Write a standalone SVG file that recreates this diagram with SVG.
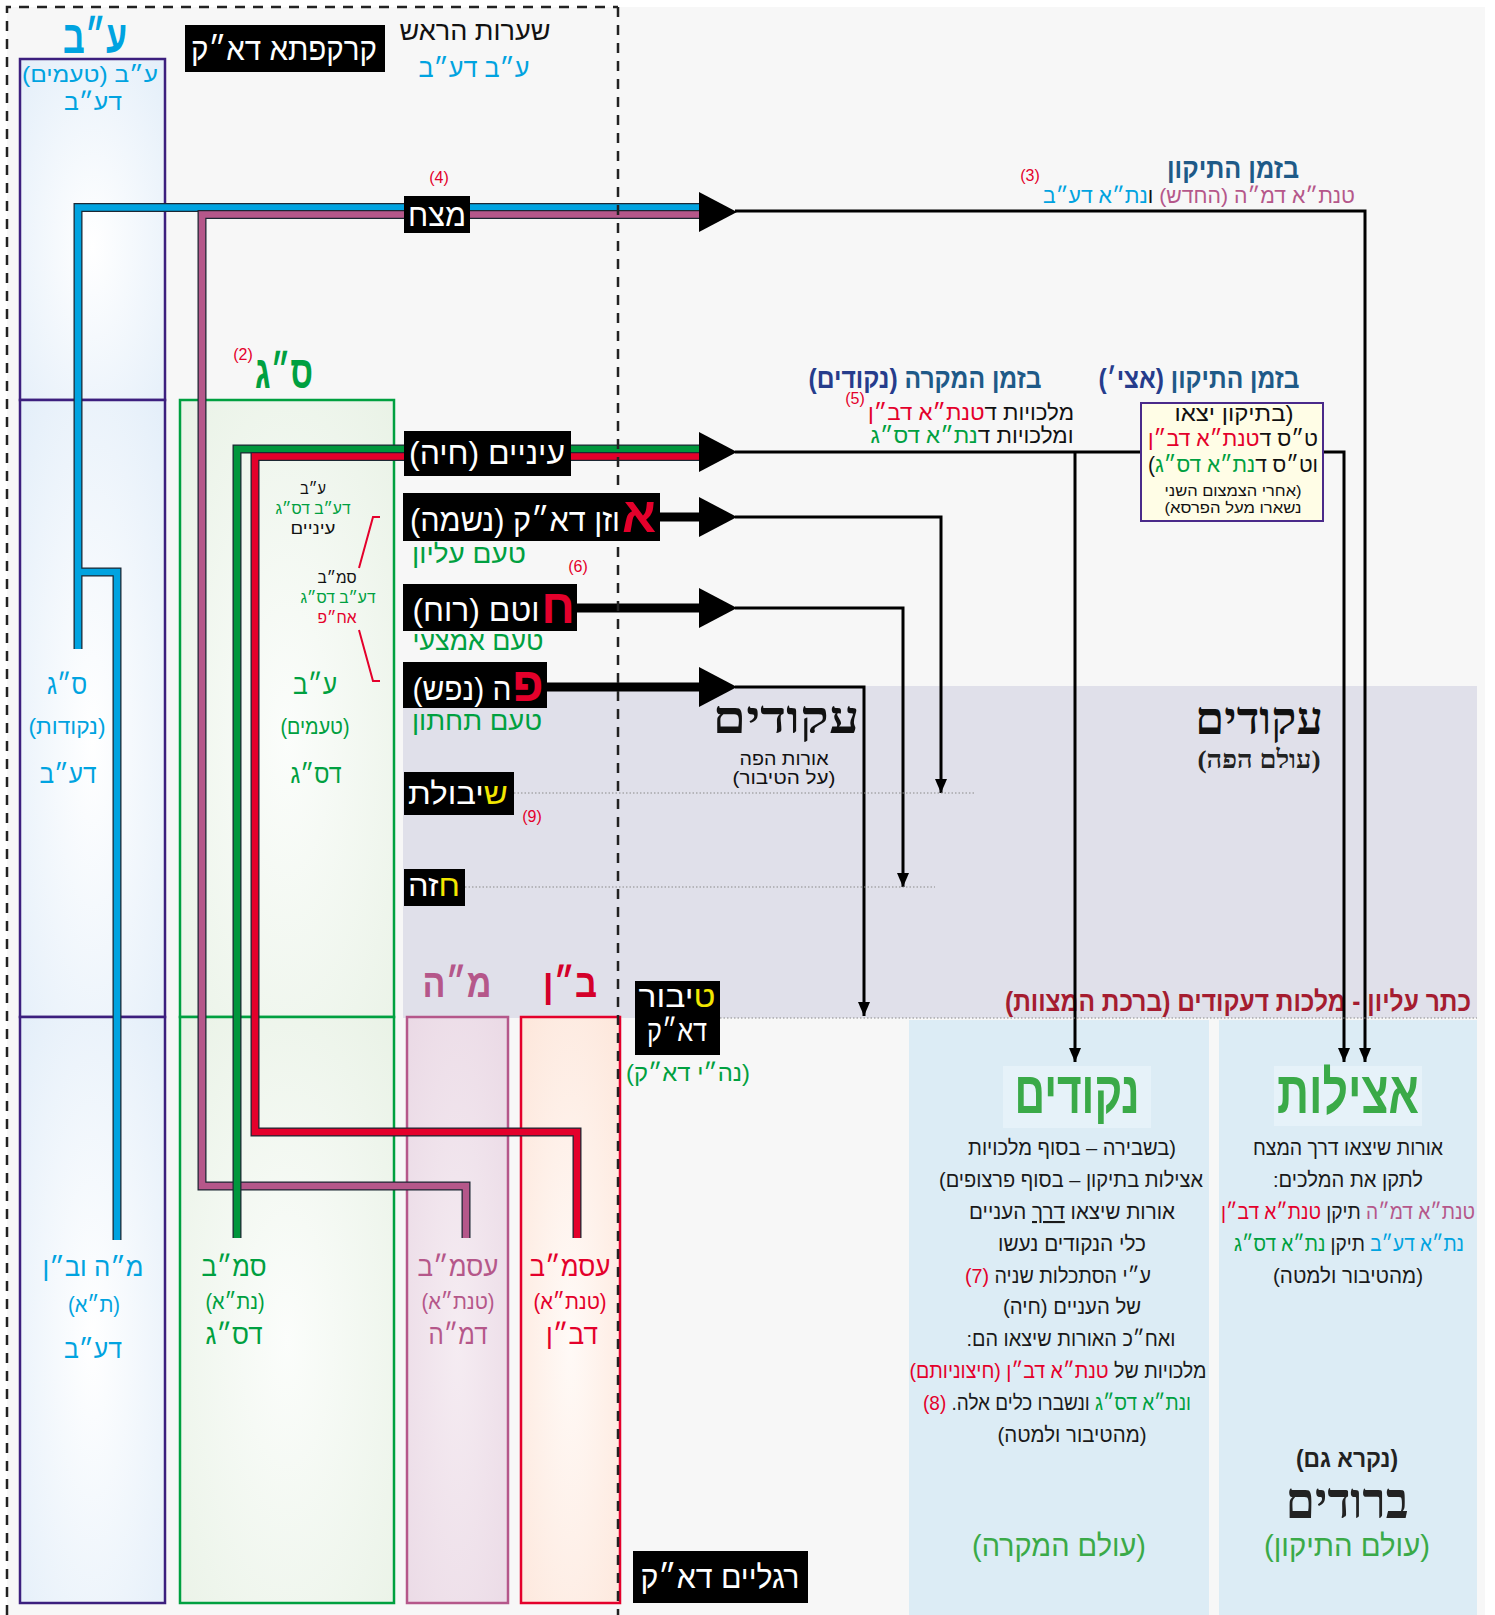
<svg xmlns="http://www.w3.org/2000/svg" width="1495" height="1615" viewBox="0 0 1495 1615">
<defs>
<style>
text{font-family:'Liberation Sans','DejaVu Sans',sans-serif;direction:rtl;text-anchor:middle}
.sf{font-family:'Liberation Serif','DejaVu Serif',serif;font-weight:bold}
.b{font-weight:bold}
.w{fill:#fff}
.cy{fill:#00a3e0}
.gr{fill:#00a040}
.rd{fill:#e4002b}
.mv{fill:#b5578a}
.bk{fill:#111}
.yl{fill:#f2e600}
.nv{fill:#1e5a88}
.nv2{fill:#263c8c}
.pg{fill:#3aaa48}
.num{fill:#e4002b;font-size:16px}
.dash{stroke:#222;stroke-width:2.5;stroke-dasharray:10 8;fill:none}
.dot{stroke:#8a8a8a;stroke-width:1.2;stroke-dasharray:1.5 2;fill:none}
.thin{stroke:#000;stroke-width:3;fill:none}
.thick{stroke:#000;stroke-width:9;fill:none}
.ol{stroke:#1c2733;stroke-width:9;fill:none}
.pt{fill:#1a1a1a;font-size:21px}
.box{fill:#000}
</style>
<marker id="ah" markerUnits="userSpaceOnUse" viewBox="0 0 14 12" refX="14" refY="6" markerWidth="14" markerHeight="12" orient="auto"><path d="M0,0 L14,6 L0,12 z" fill="#000"/></marker>
<radialGradient id="gB" cx="0.5" cy="0.55" r="0.75"><stop offset="0" stop-color="#ffffff"/><stop offset="1" stop-color="#e3eef9"/></radialGradient>
<radialGradient id="gG" cx="0.5" cy="0.55" r="0.75"><stop offset="0" stop-color="#fbfdfb"/><stop offset="1" stop-color="#e9f2e6"/></radialGradient>
<radialGradient id="gM" cx="0.5" cy="0.55" r="0.75"><stop offset="0" stop-color="#f5ecf2"/><stop offset="1" stop-color="#ead9e5"/></radialGradient>
<radialGradient id="gR" cx="0.5" cy="0.55" r="0.75"><stop offset="0" stop-color="#fffaf7"/><stop offset="1" stop-color="#fde6da"/></radialGradient>
</defs>

<rect x="0" y="0" width="1495" height="1615" fill="#fff"/>
<rect x="7" y="7" width="1478" height="1608" fill="#f7f7f7"/>

<g id="band-akudim">
<rect x="403" y="686" width="1074" height="332" fill="#e0e0ea"/>
<text x="786" y="733" class="sf" font-size="46" textLength="147" lengthAdjust="spacingAndGlyphs" fill="#111">עקודים</text>
<text x="784" y="765" font-size="18" textLength="89" lengthAdjust="spacingAndGlyphs" fill="#111">אורות הפה</text>
<text x="784" y="784" font-size="18" textLength="103" lengthAdjust="spacingAndGlyphs" fill="#111">(על הטיבור)</text>
<text x="1259" y="734" class="sf" font-size="46" textLength="128" lengthAdjust="spacingAndGlyphs" fill="#111">עקודים</text>
<text x="1259" y="768" class="sf" font-size="26" textLength="123" lengthAdjust="spacingAndGlyphs" fill="#222">(עולם הפה)</text>
<text x="1238" y="1011" class="b" font-size="28" textLength="466" lengthAdjust="spacingAndGlyphs" fill="#a51c30">כתר עליון - מלכות דעקודים (ברכת המצוות)</text>
</g>

<g id="panel-nekudim">
<rect x="909" y="1020" width="300" height="595" fill="#dcecf5"/>
<rect x="1003" y="1066" width="148" height="62" fill="#e6f2f9"/>
<text x="1077" y="1113" class="b pg" font-size="60" textLength="125" lengthAdjust="spacingAndGlyphs">נקודים</text>
<text x="1072" y="1155" class="pt" textLength="208" lengthAdjust="spacingAndGlyphs">(בשבירה – בסוף מלכויות</text>
<text x="1071" y="1187" class="pt" textLength="264" lengthAdjust="spacingAndGlyphs">אצילות בתיקון – בסוף פרצופים)</text>
<text x="1072" y="1219" class="pt" textLength="206" lengthAdjust="spacingAndGlyphs">אורות שיצאו <tspan text-decoration="underline">דרך</tspan> העניים</text>
<text x="1072" y="1251" class="pt" textLength="148" lengthAdjust="spacingAndGlyphs">כלי הנקודים נעשו</text>
<text x="1058" y="1283" class="pt" textLength="186" lengthAdjust="spacingAndGlyphs">ע״י הסתכלות שניה <tspan class="rd">(7)</tspan></text>
<text x="1072" y="1314" class="pt" textLength="138" lengthAdjust="spacingAndGlyphs">של העניים (חיה)</text>
<text x="1071" y="1346" class="pt" textLength="209" lengthAdjust="spacingAndGlyphs">ואח״כ האורות שיצאו הם:</text>
<text x="1058" y="1378" class="pt" textLength="297" lengthAdjust="spacingAndGlyphs">מלכויות של <tspan class="rd">טנת״א דב״ן (חיצוניותם)</tspan></text>
<text x="1057" y="1410" class="pt" textLength="268" lengthAdjust="spacingAndGlyphs"><tspan class="gr">ונת״א דס״ג</tspan> ונשברו כלים אלה. <tspan class="rd">(8)</tspan></text>
<text x="1072" y="1442" class="pt" textLength="149" lengthAdjust="spacingAndGlyphs">(מהטיבור ולמטה)</text>
<text x="1059" y="1556" class="pg" font-size="30" textLength="174" lengthAdjust="spacingAndGlyphs">(עולם המקרה)</text>
</g>

<g id="panel-atzilut">
<rect x="1219" y="1020" width="258" height="595" fill="#dcecf5"/>
<rect x="1274" y="1066" width="148" height="60" fill="#e6f2f9"/>
<text x="1348" y="1113" class="b pg" font-size="60" textLength="142" lengthAdjust="spacingAndGlyphs">אצילות</text>
<text x="1348" y="1155" class="pt" textLength="190" lengthAdjust="spacingAndGlyphs">אורות שיצאו דרך המצח</text>
<text x="1348" y="1187" class="pt" textLength="150" lengthAdjust="spacingAndGlyphs">לתקן את המלכים:</text>
<text x="1348" y="1219" class="pt" textLength="254" lengthAdjust="spacingAndGlyphs"><tspan class="mv">טנת״א דמ״ה</tspan> תיקן <tspan class="rd">טנת״א דב״ן</tspan></text>
<text x="1349" y="1251" class="pt" textLength="230" lengthAdjust="spacingAndGlyphs"><tspan class="cy">נת״א דע״ב</tspan> תיקן <tspan class="gr">נת״א דס״ג</tspan></text>
<text x="1348" y="1283" class="pt" textLength="150" lengthAdjust="spacingAndGlyphs">(מהטיבור ולמטה)</text>
<text x="1347" y="1467" class="b" font-size="24" textLength="102" lengthAdjust="spacingAndGlyphs" fill="#222">(נקרא גם)</text>
<text x="1347" y="1518" class="sf" font-size="50" textLength="123" lengthAdjust="spacingAndGlyphs" fill="#222">ברודים</text>
<text x="1347" y="1556" class="pg" font-size="30" textLength="166" lengthAdjust="spacingAndGlyphs">(עולם התיקון)</text>
</g>

<g id="col-ab">
<rect x="20" y="59" width="145" height="341" fill="url(#gB)" stroke="#3c1f7e" stroke-width="2.5"/>
<rect x="20" y="400" width="145" height="617" fill="url(#gB)" stroke="#3c1f7e" stroke-width="2.5"/>
<rect x="20" y="1017" width="145" height="586" fill="url(#gB)" stroke="#3c1f7e" stroke-width="2.5"/>
<text x="95" y="53" class="b cy" font-size="46" textLength="64" lengthAdjust="spacingAndGlyphs">ע״ב</text>
<text x="90" y="82" class="cy" font-size="22" textLength="136" lengthAdjust="spacingAndGlyphs">ע״ב (טעמים)</text>
<text x="93" y="110" class="cy" font-size="24" textLength="58" lengthAdjust="spacingAndGlyphs">דע״ב</text>
<text x="67" y="694" class="cy" font-size="28" textLength="40" lengthAdjust="spacingAndGlyphs">ס״ג</text>
<text x="67" y="734" class="cy" font-size="22" textLength="77" lengthAdjust="spacingAndGlyphs">(נקודות)</text>
<text x="68" y="783" class="cy" font-size="26" textLength="57" lengthAdjust="spacingAndGlyphs">דע״ב</text>
<text x="93" y="1276" class="cy" font-size="26" textLength="101" lengthAdjust="spacingAndGlyphs">מ״ה וב״ן</text>
<text x="94" y="1312" class="cy" font-size="22" textLength="52" lengthAdjust="spacingAndGlyphs">(ת״א)</text>
<text x="93" y="1358" class="cy" font-size="26" textLength="58" lengthAdjust="spacingAndGlyphs">דע״ב</text>
</g>

<g id="col-sg">
<rect x="180" y="400" width="214" height="617" fill="url(#gG)" stroke="#00a040" stroke-width="2.5"/>
<rect x="180" y="1017" width="214" height="586" fill="url(#gG)" stroke="#00a040" stroke-width="2.5"/>
<text x="284" y="388" class="b gr" font-size="46" textLength="58" lengthAdjust="spacingAndGlyphs">ס״ג</text>
<text x="243" y="360" class="num">(2)</text>
<text x="313" y="494" class="bk" font-size="16" textLength="26" lengthAdjust="spacingAndGlyphs">ע״ב</text>
<text x="313" y="514" class="gr" font-size="16" textLength="75" lengthAdjust="spacingAndGlyphs">דע״ב דס״ג</text>
<text x="313" y="534" class="bk" font-size="16" textLength="45" lengthAdjust="spacingAndGlyphs">עיניים</text>
<text x="337" y="583" class="bk" font-size="16" textLength="39" lengthAdjust="spacingAndGlyphs">סמ״ב</text>
<text x="338" y="603" class="gr" font-size="16" textLength="75" lengthAdjust="spacingAndGlyphs">דע״ב דס״ג</text>
<text x="337" y="623" class="rd" font-size="16" textLength="39" lengthAdjust="spacingAndGlyphs">אח״פ</text>
<path d="M380,517 H373 L359,568 M359,630 L373,681 H380" fill="none" stroke="#e4002b" stroke-width="2"/>
<text x="315" y="694" class="gr" font-size="28" textLength="44" lengthAdjust="spacingAndGlyphs">ע״ב</text>
<text x="315" y="734" class="gr" font-size="22" textLength="69" lengthAdjust="spacingAndGlyphs">(טעמים)</text>
<text x="316" y="783" class="gr" font-size="26" textLength="51" lengthAdjust="spacingAndGlyphs">דס״ג</text>
<text x="234" y="1276" class="gr" font-size="28" textLength="65" lengthAdjust="spacingAndGlyphs">סמ״ב</text>
<text x="235" y="1309" class="gr" font-size="22" textLength="59" lengthAdjust="spacingAndGlyphs">(נת״א)</text>
<text x="234" y="1344" class="gr" font-size="28" textLength="57" lengthAdjust="spacingAndGlyphs">דס״ג</text>
</g>

<g id="col-mh">
<rect x="407" y="1017" width="101" height="586" fill="url(#gM)" stroke="#b5578a" stroke-width="2.5"/>
<text x="457" y="997" class="b mv" font-size="40" textLength="69" lengthAdjust="spacingAndGlyphs">מ״ה</text>
<text x="458" y="1276" class="mv" font-size="28" textLength="81" lengthAdjust="spacingAndGlyphs">עסמ״ב</text>
<text x="458" y="1309" class="mv" font-size="22" textLength="73" lengthAdjust="spacingAndGlyphs">(טנת״א)</text>
<text x="458" y="1344" class="mv" font-size="28" textLength="59" lengthAdjust="spacingAndGlyphs">דמ״ה</text>
</g>

<g id="col-bn">
<rect x="521" y="1017" width="99" height="586" fill="url(#gR)" stroke="#e4002b" stroke-width="2.5"/>
<text x="570" y="997" class="b" fill="#d4002a" font-size="40" textLength="54" lengthAdjust="spacingAndGlyphs">ב״ן</text>
<text x="570" y="1276" class="rd" font-size="28" textLength="81" lengthAdjust="spacingAndGlyphs">עסמ״ב</text>
<text x="570" y="1309" class="rd" font-size="22" textLength="73" lengthAdjust="spacingAndGlyphs">(טנת״א)</text>
<text x="572" y="1344" class="rd" font-size="28" textLength="52" lengthAdjust="spacingAndGlyphs">דב״ן</text>
</g>

<g id="connectors">
<path class="ol" d="M700,207.5 H78 V649 M78,572 H117 V1240"/>
<path d="M700,207.5 H78 V649 M78,572 H117 V1240" fill="none" stroke="#00a3e0" stroke-width="6.5"/>
<path class="ol" d="M700,214.5 H202 V1186 H466 V1238"/>
<path d="M700,214.5 H202 V1186 H466 V1238" fill="none" stroke="#b5578a" stroke-width="6.5"/>
<path class="ol" d="M700,449 H237 V1238"/>
<path d="M700,449 H237 V1238" fill="none" stroke="#00963c" stroke-width="6.5"/>
<path class="ol" d="M700,456.5 H255 V1132 H577 V1238"/>
<path d="M700,456.5 H255 V1132 H577 V1238" fill="none" stroke="#e4002b" stroke-width="6.5"/>
<path class="thick" d="M655,517 H702 M572,608 H702 M542,687 H702"/>
<polygon points="699,192 699,232 737,212" fill="#000"/>
<polygon points="699,432 699,472 737,452" fill="#000"/>
<polygon points="699,497 699,537 737,517" fill="#000"/>
<polygon points="699,588 699,628 737,608" fill="#000"/>
<polygon points="699,667 699,707 737,687" fill="#000"/>
<path class="thin" d="M735,211 H1365 V1062" marker-end="url(#ah)"/>
<path class="thin" d="M735,452 H1142"/>
<path class="thin" d="M1075,452 V1062" marker-end="url(#ah)"/>
<path class="thin" d="M1322,452 H1344 V1062" marker-end="url(#ah)"/>
<path class="thin" d="M735,517 H941 V793" marker-end="url(#ah)"/>
<path class="thin" d="M735,608 H903 V887" marker-end="url(#ah)"/>
<path class="thin" d="M735,687 H864 V1016" marker-end="url(#ah)"/>
<path class="dot" d="M514,793 H975 M465,887 H935 M720,1018 H1477"/>
</g>

<path class="dash" d="M7,1615 V7 H618 M618,7 V1615"/>

<g id="node-kark">
<rect class="box" x="185" y="25" width="200" height="47"/>
<text x="284" y="60" class="w" font-size="32" textLength="186" lengthAdjust="spacingAndGlyphs">קרקפתא דא״ק</text>
</g>
<g id="label-hair">
<text x="475" y="40" class="bk" font-size="26" textLength="151" lengthAdjust="spacingAndGlyphs">שערות הראש</text>
<text x="474" y="77" class="cy" font-size="26" textLength="111" lengthAdjust="spacingAndGlyphs">ע״ב דע״ב</text>
</g>
<g id="node-metzach">
<text x="439" y="183" class="num">(4)</text>
<rect class="box" x="404" y="196" width="66" height="37"/>
<text x="437" y="226" class="w" font-size="32" textLength="58" lengthAdjust="spacingAndGlyphs">מצח</text>
</g>
<g id="label-tikun-top">
<text x="1233" y="178" class="b nv" font-size="28" textLength="132" lengthAdjust="spacingAndGlyphs">בזמן התיקון</text>
<text x="1199" y="203" font-size="21" textLength="312" lengthAdjust="spacingAndGlyphs"><tspan class="mv">טנת״א דמ״ה (החדש) </tspan><tspan class="bk">ו</tspan><tspan class="cy">נת״א דע״ב</tspan></text>
<text x="1030" y="181" class="num" font-size="15">(3)</text>
</g>
<g id="node-einayim">
<rect class="box" x="404" y="431" width="167" height="45"/>
<text x="487" y="464" class="w" font-size="32" textLength="156" lengthAdjust="spacingAndGlyphs">עיניים (חיה)</text>
</g>
<g id="label-mikre">
<text x="925" y="388" class="b" font-size="28" textLength="233" lengthAdjust="spacingAndGlyphs"><tspan class="nv">בזמן המקרה </tspan><tspan class="nv2">(נקודים)</tspan></text>
<text x="855" y="404" class="num" font-size="15">(5)</text>
<text x="971" y="420" font-size="22" textLength="206" lengthAdjust="spacingAndGlyphs"><tspan class="bk">מלכויות ד</tspan><tspan class="rd">טנת״א דב״ן</tspan></text>
<text x="972" y="443" font-size="22" textLength="203" lengthAdjust="spacingAndGlyphs"><tspan class="bk">ומלכויות ד</tspan><tspan class="gr">נת״א דס״ג</tspan></text>
</g>
<g id="label-tikun-mid">
<text x="1199" y="388" class="b" font-size="28" textLength="201" lengthAdjust="spacingAndGlyphs"><tspan class="nv">בזמן התיקון </tspan><tspan class="nv2">(אצי׳)</tspan></text>
<rect x="1141" y="403" width="182" height="118" fill="#fffde6" stroke="#4a2a8a" stroke-width="2"/>
<text x="1234" y="421" class="bk" font-size="22" textLength="119" lengthAdjust="spacingAndGlyphs">(בתיקון יצאו</text>
<text x="1233" y="446" font-size="22" textLength="170" lengthAdjust="spacingAndGlyphs"><tspan class="bk">ט״ס ד</tspan><tspan class="rd">טנת״א דב״ן</tspan></text>
<text x="1233" y="472" font-size="22" textLength="170" lengthAdjust="spacingAndGlyphs"><tspan class="bk">וט״ס ד</tspan><tspan class="gr">נת״א דס״ג</tspan><tspan class="bk">)</tspan></text>
<text x="1233" y="496" class="bk" font-size="15" textLength="137" lengthAdjust="spacingAndGlyphs">(אחרי הצמצום השני</text>
<text x="1233" y="513" class="bk" font-size="15" textLength="137" lengthAdjust="spacingAndGlyphs">נשארו מעל הפרסא)</text>
</g>
<g id="node-ozen">
<rect class="box" x="403" y="493" width="257" height="48"/>
<text x="639" y="532" class="b rd" font-size="50">א</text>
<text x="515" y="531" class="w" font-size="32" textLength="210" lengthAdjust="spacingAndGlyphs">וזן דא״ק (נשמה)</text>
<text x="469" y="563" class="gr" font-size="26" textLength="114" lengthAdjust="spacingAndGlyphs">טעם עליון</text>
<text x="578" y="572" class="num">(6)</text>
</g>
<g id="node-chotem">
<rect class="box" x="403" y="584" width="174" height="47"/>
<text x="558" y="623" class="b rd" font-size="48">ח</text>
<text x="476" y="621" class="w" font-size="32" textLength="127" lengthAdjust="spacingAndGlyphs">וטם (רוח)</text>
<text x="478" y="650" class="gr" font-size="26" textLength="131" lengthAdjust="spacingAndGlyphs">טעם אמצעי</text>
</g>
<g id="node-peh">
<rect class="box" x="403" y="662" width="144" height="46"/>
<text x="528" y="701" class="b rd" font-size="48">פ</text>
<text x="462" y="700" class="w" font-size="32" textLength="99" lengthAdjust="spacingAndGlyphs">ה (נפש)</text>
<text x="477" y="730" class="gr" font-size="26" textLength="130" lengthAdjust="spacingAndGlyphs">טעם תחתון</text>
</g>
<g id="node-shibolet">
<rect class="box" x="404" y="772" width="110" height="43"/>
<text x="458" y="804" font-size="30" textLength="100" lengthAdjust="spacingAndGlyphs"><tspan class="yl">ש</tspan><tspan class="w">יבולת</tspan></text>
<text x="532" y="822" class="num">(9)</text>
</g>
<g id="node-chazeh">
<rect class="box" x="404" y="869" width="61" height="37"/>
<text x="434" y="896" font-size="30" textLength="52" lengthAdjust="spacingAndGlyphs"><tspan class="yl">ח</tspan><tspan class="w">זה</tspan></text>
</g>
<g id="node-tibur">
<rect class="box" x="635" y="981" width="85" height="74"/>
<text x="677" y="1007" font-size="30" textLength="77" lengthAdjust="spacingAndGlyphs"><tspan class="yl">ט</tspan><tspan class="w">יבור</tspan></text>
<text x="677" y="1041" class="w" font-size="30" textLength="60" lengthAdjust="spacingAndGlyphs">דא״ק</text>
<text x="688" y="1081" class="gr" font-size="24" textLength="124" lengthAdjust="spacingAndGlyphs">(נה״י דא״ק)</text>
</g>
<g id="node-raglayim">
<rect class="box" x="633" y="1551" width="175" height="52"/>
<text x="720" y="1588" class="w" font-size="32" textLength="159" lengthAdjust="spacingAndGlyphs">רגליים דא״ק</text>
</g>
</svg>
